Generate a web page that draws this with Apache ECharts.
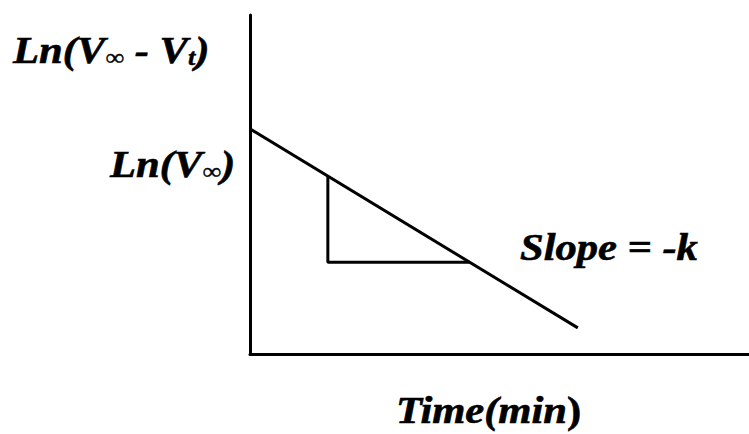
<!DOCTYPE html>
<html>
<head>
<meta charset="utf-8">
<script src="https://cdn.jsdelivr.net/npm/echarts@6/dist/echarts.min.js"></script>
<style>
  html, body { margin: 0; padding: 0; background: #fff; }
  #chart { width: 749px; height: 434px; }
</style>
</head>
<body>
<div id="chart"></div>
<script>
// Straight line ln(Vinf - Vt) against time
const timeValues = [0, 65.7];
const lnValues = [66.4, 7.7];

// Slope triangle under the line
const triangleTime = [15.6, 15.6, 44.1];
const triangleLn = [52.5, 27.1, 27.1];

// Texts
const yTitle = 'Ln(V{sub|∞} - V{sub|t})';
const interceptLabel = 'Ln(V{sub|∞})';
const slopeLabel = 'Slope = -k';
const xTitle = 'Time(min{up|)}';

const zip = (xs, ys) => xs.map((x, i) => [x, ys[i]]);

const serif = 'Liberation Serif';

// Bold italic Times-like serif, stretched a little
const textEl = (text, x, y) => ({
    type: 'text',
    x: x,
    y: y,
    scaleX: 1.15,
    style: {
        text: text,
        fontFamily: serif,
        fontSize: 37,
        fontWeight: 'bold',
        fontStyle: 'italic',
        fill: '#000',
        stroke: '#000',
        lineWidth: 0.6,
        align: 'left',
        verticalAlign: 'middle',
        rich: {
            sub: {
                fontFamily: serif,
                fontSize: 23,
                fontWeight: 'bold',
                fontStyle: 'italic',
                verticalAlign: 'bottom',
                fill: '#000',
                stroke: '#000',
                lineWidth: 0.4
            },
            up: {
                fontFamily: serif,
                fontSize: 37,
                fontWeight: 'bold',
                fontStyle: 'normal',
                fill: '#000',
                stroke: '#000',
                lineWidth: 0.6
            }
        }
    }
});

const hiddenAxis = {
    type: 'value',
    min: 0,
    max: 100,
    axisLine: { show: true, lineStyle: { color: '#000', width: 3 } },
    axisTick: { show: false },
    axisLabel: { show: false },
    splitLine: { show: false }
};

const option = {
    animation: false,
    backgroundColor: '#fff',
    grid: { left: 250, right: 0, top: 15, bottom: 80 },
    xAxis: hiddenAxis,
    yAxis: hiddenAxis,
    series: [
        {
            type: 'line',
            data: zip(timeValues, lnValues),
            showSymbol: false,
            lineStyle: { color: '#000', width: 3 }
        },
        {
            type: 'line',
            data: zip(triangleTime, triangleLn),
            showSymbol: false,
            lineStyle: { color: '#000', width: 3 }
        }
    ],
    graphic: [
        textEl(yTitle, 13, 50.5),
        textEl(interceptLabel, 110, 164.5),
        textEl(slopeLabel, 520, 247.5),
        textEl(xTitle, 396, 410.5)
    ]
};

const chart = echarts.init(document.getElementById('chart'), null, { renderer: 'svg' });
chart.setOption(option);

// Redraw once the serif faces are surely available
if (document.fonts && document.fonts.load) {
    Promise.all([
        document.fonts.load('italic bold 37px "Liberation Serif"'),
        document.fonts.load('bold 37px "Liberation Serif"')
    ]).then(() => chart.setOption(option, true));
}
</script>
</body>
</html>
